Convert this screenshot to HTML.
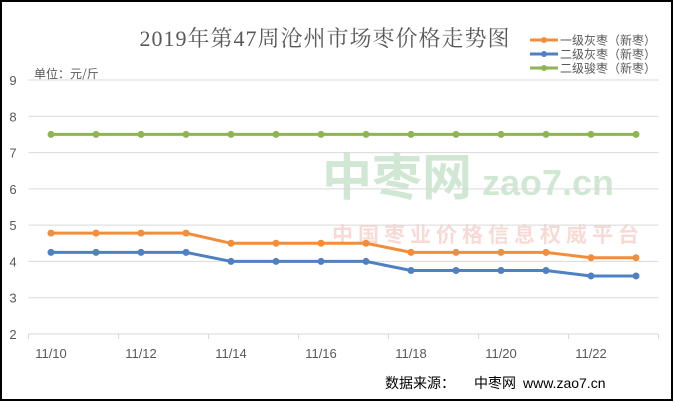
<!DOCTYPE html>
<html><head><meta charset="utf-8"><style>
body{margin:0;background:#fff}
#wrap{position:relative;width:674px;height:402px;overflow:hidden;font-family:"Liberation Sans","Microsoft YaHei","Noto Sans CJK SC",sans-serif}
</style></head><body>
<div id="wrap">
<svg id="svg" width="674" height="402" xmlns="http://www.w3.org/2000/svg">
<rect x="1" y="1" width="671" height="399" fill="#fff" stroke="#000" stroke-width="2"/>
<text x="325" y="46" font-size="22" fill="#595959" text-anchor="middle" letter-spacing="1" font-family="Liberation Serif,Noto Serif CJK SC,serif">2019年第47周沧州市场枣价格走势图</text>
<text x="34" y="78" font-size="12" fill="#595959" font-family="Noto Sans CJK SC,sans-serif">单位：元/斤</text>
<text x="322" y="195" font-size="50" fill="#2e9a3a" opacity="0.22" font-weight="bold" font-family="Noto Sans CJK SC,sans-serif">中枣网</text>
<text x="482" y="195" font-size="36" fill="#2e9a3a" opacity="0.22" font-weight="bold">zao7.cn</text>
<text x="332" y="242" font-size="21" fill="#d84a3a" opacity="0.2" font-weight="bold" letter-spacing="5" font-family="Noto Sans CJK SC,sans-serif">中国枣业价格信息权威平台</text>
<g id="grid"></g><g id="series"></g>
<text x="385" y="388" font-size="14" fill="#000" font-family="Noto Sans CJK SC,sans-serif">数据来源：<tspan x="474">中枣网</tspan><tspan x="523" font-family="Liberation Sans" font-size="14">www.zao7.cn</tspan></text>
<g id="legend"></g>
</svg></div>
<script>
const categories=["11/10","11/11","11/12","11/13","11/14","11/15","11/16","11/17","11/18","11/19","11/20","11/21","11/22","11/23"];
const grade1Gray=[4.78,4.78,4.78,4.78,4.5,4.5,4.5,4.5,4.25,4.25,4.25,4.25,4.1,4.1];
const grade2Gray=[4.25,4.25,4.25,4.25,4.0,4.0,4.0,4.0,3.75,3.75,3.75,3.75,3.6,3.6];
const grade2Jun=[7.5,7.5,7.5,7.5,7.5,7.5,7.5,7.5,7.5,7.5,7.5,7.5,7.5,7.5];
const yTicks=[2,3,4,5,6,7,8,9];
const seriesNames=["一级灰枣（新枣）","二级灰枣（新枣）","二级骏枣（新枣）"];
const NS="http://www.w3.org/2000/svg";
const x0=28.5,bw=45,yTop=80,yBot=334;
const xs=i=>x0+bw*(i+0.5);
const ys=v=>yBot-(v-2)/(9-2)*(yBot-yTop);
function mk(t,a,p){const e=document.createElementNS(NS,t);for(const k in a)e.setAttribute(k,a[k]);p.appendChild(e);return e;}
const grid=document.getElementById('grid');
yTicks.forEach(v=>{
 const l=mk('line',{x1:x0,x2:x0+bw*categories.length,y1:ys(v),y2:ys(v),stroke:'#d9d9d9','stroke-width':1},grid);
 
 
 const t=mk('text',{x:13,y:ys(v)+5,'font-size':13,fill:'#595959','text-anchor':'middle'},grid);t.textContent=v;
 
 
});
for(let i=0;i<=categories.length;i+=2){
 const l=mk('line',{x1:x0+bw*i,x2:x0+bw*i,y1:yBot,y2:yBot+5,stroke:'#d9d9d9'},grid);
 
 
}
categories.forEach((c,i)=>{if(i%2)return;
 const t=mk('text',{x:xs(i),y:yBot+24,'font-size':13,fill:'#595959','text-anchor':'middle'},grid);t.textContent=c;
 
 
});
const colors=["#f28e3b","#4e80c2","#8db553"];
const sg=document.getElementById('series');
[grade1Gray,grade2Gray,grade2Jun].forEach((d,si)=>{
 const p=mk('polyline',{points:d.map((v,i)=>xs(i)+','+ys(v)).join(' '),fill:'none',stroke:colors[si],'stroke-width':3},sg);
 
 
 d.forEach((v,i)=>{const c=mk('circle',{cx:xs(i),cy:ys(v),r:3.5,fill:colors[si]},sg);
  
  });
});
const lg=document.getElementById('legend');
seriesNames.forEach((n,i)=>{const y=40+i*14;
 const l=mk('line',{x1:530,x2:558,y1:y,y2:y,stroke:colors[i],'stroke-width':3},lg);
 
 
 mk('circle',{cx:544,cy:y,r:3,fill:colors[i]},lg);
 const t=mk('text',{x:560,y:y+4.5,'font-size':12,fill:'#595959','font-family':'Noto Sans CJK SC,sans-serif'},lg);t.textContent=n;
 
 
});
</script>
</body></html>
